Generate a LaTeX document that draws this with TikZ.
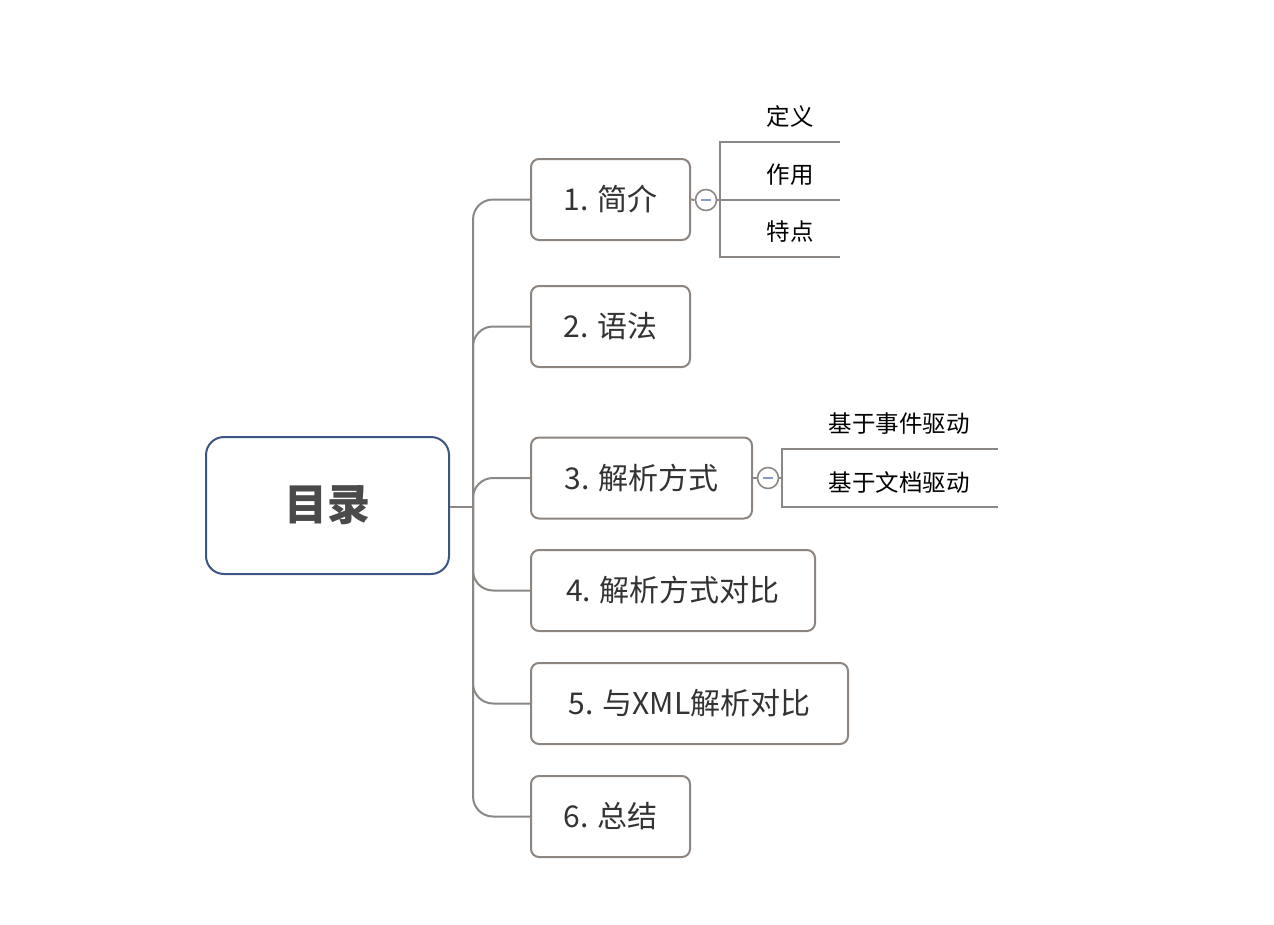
\documentclass[tikz,border=0pt]{standalone}
\usepackage{fontspec}
\setmainfont{Noto Sans CJK SC}
\usetikzlibrary{calc}
\definecolor{linegray}{HTML}{8A8784}
\definecolor{boxgray}{HTML}{8C8580}
\definecolor{centerblue}{HTML}{3E5583}
\definecolor{textdark}{HTML}{333333}
\definecolor{centertext}{HTML}{4A4A4A}
\definecolor{minusblue}{HTML}{8A9AC8}
\tikzset{
  centerbox/.style={draw=centerblue, line width=2pt, rounded corners=18pt, fill=white, minimum width=243pt, minimum height=137pt, font=\fontsize{43}{46}\selectfont\bfseries, text=centertext},
  topicbox/.style={draw=boxgray, line width=2pt, rounded corners=8pt, fill=white, minimum height=81pt, anchor=west, font=\fontsize{30}{34}\selectfont, text=textdark, inner xsep=0pt},
  subtext/.style={font=\fontsize{23.5}{26}\selectfont, text=black},
  branch/.style={draw=linegray, line width=2pt, rounded corners=20pt},
  subline/.style={draw=linegray, line width=2pt},
  collapse/.style={circle, draw=linegray, line width=1.6pt, fill=white, minimum size=21pt, inner sep=0pt},
}
\begin{document}
\begin{tikzpicture}[x=1pt,y=-1pt]
\useasboundingbox (0,0) rectangle (1274,924);
\node[centerbox] (c) at (327.5,505.5) {目录};
\node[topicbox, minimum width=159pt] (t1) at (530,199.5) {1. 简介};
\node[topicbox, minimum width=159pt] (t2) at (530,326.5) {2. 语法};
\node[topicbox, minimum width=221pt] (t3) at (530,478) {3. 解析方式};
\node[topicbox, minimum width=284pt] (t4) at (530,590.5) {4. 解析方式对比};
\node[topicbox, minimum width=317pt] (t5) at (530,703.5) {5. 与XML解析对比};
\node[topicbox, minimum width=159pt] (t6) at (530,816.5) {6. 总结};
\coordinate (j) at (473,507);
\draw[subline] (c.east |- j) -- (j);
\foreach \t in {t1,t2,t3,t4,t5,t6}{
  \path[branch] (j) |- (\t.west);
}
% subtopics of 1
\node[collapse] (k1) at (706,200) {};
\draw[minusblue, line width=1.6pt] ($(k1)+(-5,0)$) -- ($(k1)+(5,0)$);
\coordinate (b1a) at (720,142);
\coordinate (b1b) at (720,200);
\coordinate (b1c) at (720,257);
\node[subtext] (s11) at (790,117) {定义};
\node[subtext] (s12) at (790,175) {作用};
\node[subtext] (s13) at (790,232) {特点};
\coordinate (e11) at (840,142);
\coordinate (e12) at (840,200);
\coordinate (e13) at (840,257);
\draw[subline] (t1.east) -- (k1.west);
\draw[subline] (k1.east) -- (b1b);
\draw[subline] (e11) -- (b1a) -- (b1c) -- (e13);
\draw[subline] (b1b) -- (e12);
% subtopics of 3
\node[collapse] (k3) at (768,478) {};
\draw[minusblue, line width=1.6pt] ($(k3)+(-5,0)$) -- ($(k3)+(5,0)$);
\coordinate (b3a) at (782,449);
\coordinate (b3m) at (782,478);
\coordinate (b3b) at (782,507);
\node[subtext] (s31) at (899,424) {基于事件驱动};
\node[subtext] (s32) at (899,482) {基于文档驱动};
\coordinate (e31) at (998,449);
\coordinate (e32) at (998,507);
\draw[subline] (t3.east) -- (k3.west);
\draw[subline] (k3.east) -- (b3m);
\draw[subline] (e31) -- (b3a) -- (b3b) -- (e32);
\end{tikzpicture}
\end{document}
